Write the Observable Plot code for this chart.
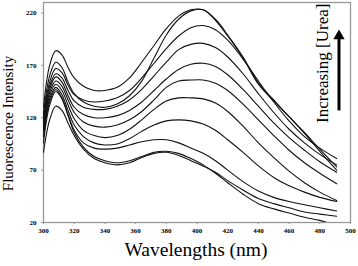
<!DOCTYPE html>
<html>
<head>
<meta charset="utf-8">
<script src="https://cdn.jsdelivr.net/npm/d3@7"></script>
<script src="https://cdn.jsdelivr.net/npm/@observablehq/plot@0.6"></script>
<style>
  html, body { margin: 0; padding: 0; background: #fff; }
  #chart svg { display: block; }
  #chart svg text { font-family: "Liberation Serif", "Times New Roman", serif; }
</style>
</head>
<body>
<div id="chart"></div>
<script>
// Wavelength grid (nm)
const wavelengths = [300, 304, 308, 312, 316, 320, 326, 333, 340, 348, 356, 364, 372, 380, 388, 396, 404, 412, 420, 430, 440, 450, 460, 470, 480, 491];

// Fluorescence spectra, ordered from highest [urea] (top at 400 nm) downwards
const s1  = [130, 170, 184, 180, 168, 158, 150, 146, 146, 149, 158, 173, 189, 205, 217, 223, 223, 213, 198, 177, 152, 136, 121, 105, 88, 70];
const s2  = [124, 160, 173, 168, 154, 143, 135, 131, 130, 133, 141, 155, 177, 199, 214, 222, 223, 214, 199, 178, 153, 137, 121, 106, 90, 73];
const s3  = [121, 154, 167, 163, 151, 142, 137, 135, 136, 139, 146, 158, 172, 186, 198, 206, 208, 204, 194, 176, 155, 135, 117, 102, 91, 81];
const s4  = [118, 150, 162, 158, 146, 136, 130, 128, 128, 131, 137, 147, 160, 173, 185, 190, 191, 187, 178, 162, 143, 125, 109, 96, 85, 75];
const s5  = [115, 147, 159, 154, 141, 130, 123, 120, 120, 122, 127, 135, 146, 157, 166, 171, 172, 169, 161, 147, 131, 115, 101, 89, 78, 68];
const s6  = [112, 144, 155, 150, 137, 125, 116, 112, 111, 113, 118, 126, 137, 149, 155, 156, 156, 153, 146, 133, 118, 103, 89, 77, 67, 57];
const s7  = [109, 141, 152, 146, 132, 119, 108, 103, 101, 103, 109, 118, 128, 136, 139, 139, 138, 134, 126, 112, 96, 82, 69, 58, 49, 41];
const s8  = [106, 138, 149, 142, 127, 113, 102, 96, 94, 95, 100, 107, 113, 117, 118, 117, 114, 108, 99, 87, 74, 63, 55, 49, 44, 40];
const s9  = [102, 135, 147, 139, 123, 108, 96, 91, 90, 91, 94, 97, 99, 99, 96, 91, 86, 79, 70, 59, 50, 44, 40, 37, 34, 31];
const s10 = [87, 118, 131, 127, 115, 103, 90, 81, 77, 75, 77, 82, 86, 87, 84, 79, 74, 68, 60, 51, 43, 38, 34, 30, 28, 26];
const s11 = [96, 132, 145, 138, 122, 106, 92, 83, 79, 77, 79, 83, 87, 88, 86, 81, 75, 67, 58, 47, 38, 33, 29, 25, 22, 17];
const seriesList = [s1, s2, s3, s4, s5, s6, s7, s8, s9, s10, s11];

// Axis ticks and titles
const xTicks = [300, 320, 340, 360, 380, 400, 420, 440, 460, 480, 500];
const yTicks = [20, 70, 120, 170, 220];
const xTitle = "Wavelengths (nm)";
const yTitle = "Fluorescence Intensity";

// Annotation (data coordinates)
const annotText = "Increasing [Urea]";
const annotX = [482];
const annotY = [172];
const arrowX = [492.5];
const arrowFrom = [127];
const arrowTo = [198];

const serif = "'Liberation Serif', 'Times New Roman', serif";

const data = seriesList.flatMap((vals, i) =>
  vals.map((v, j) => ({series: "s" + (i + 1), w: wavelengths[j], v}))
);

const chart = Plot.plot({
  width: 358,
  height: 266,
  marginLeft: 43,
  marginRight: 8,
  marginTop: 2,
  marginBottom: 44,
  style: {fontFamily: serif, background: "#fff", color: "#000"},
  x: {domain: [300, 500]},
  y: {domain: [20, 230]},
  marks: [
    Plot.frame({stroke: "#999", strokeWidth: 1.3}),
    Plot.axisX({ticks: xTicks, tickSize: 2, tickPadding: 4, fontSize: 7, fontWeight: "bold", fontFamily: serif, label: null, stroke: "#999"}),
    Plot.axisY({ticks: yTicks, tickSize: 2, tickPadding: 5, fontSize: 7, fontWeight: "bold", fontFamily: serif, label: null, stroke: "#999"}),
    Plot.line(data, {x: "w", y: "v", z: "series", curve: "catmull-rom", stroke: "#111", strokeWidth: 1.1, clip: true}),
    Plot.text([xTitle], {text: d => d, frameAnchor: "bottom", textAnchor: "middle", dx: -1, dy: 33, fontSize: 19.5, fontFamily: serif}),
    Plot.text([yTitle], {text: d => d, frameAnchor: "left", textAnchor: "middle", rotate: -90, dx: -35, dy: 11, fontSize: 15, fontFamily: serif}),
    Plot.text([annotText], {text: d => d, x: () => annotX[0], y: () => annotY[0], rotate: -90, fontSize: 17, fontFamily: serif}),
    Plot.link([0], {x1: () => arrowX[0], x2: () => arrowX[0], y1: () => arrowFrom[0], y2: () => arrowTo[0], stroke: "#000", strokeWidth: 3}),
    Plot.dot([0], {x: () => arrowX[0], y: () => arrowTo[0], symbol: "triangle", r: 4.2, fill: "#000", stroke: "none"})
  ]
});
document.getElementById("chart").appendChild(chart);
</script>
</body>
</html>
